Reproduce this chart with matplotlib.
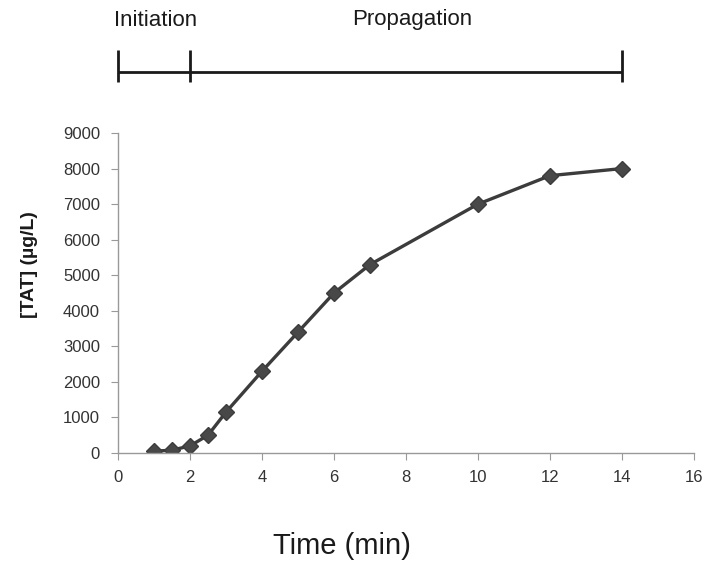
import matplotlib
matplotlib.use('Agg')
import matplotlib.pyplot as plt
import matplotlib.transforms as mtransforms

# data
time_min = [1, 1.5, 2, 2.5, 3, 4, 5, 6, 7, 10, 12, 14]
tat = [50, 80, 200, 500, 1150, 2300, 3400, 4500, 5300, 7000, 7800, 8000]
x_ticks = [0, 2, 4, 6, 8, 10, 12, 14, 16]
y_ticks = [0, 1000, 2000, 3000, 4000, 5000, 6000, 7000, 8000, 9000]
phase_edges = [0, 2, 14]
phase_names = ['Initiation', 'Propagation']

plt.rcParams['font.family'] = ['Liberation Sans', 'DejaVu Sans']

W, H = 704, 563
fig = plt.figure(figsize=(W / 100, H / 100), dpi=100)
ax = fig.add_axes([118 / W, 1 - 453 / H, 576 / W, 320 / H])

ax.plot(time_min, tat, color='#3c3c3c', linewidth=2.4, marker='D',
        markersize=8, markerfacecolor='#484848', markeredgecolor='#3c3c3c')

ax.set_xlim(0, 16)
ax.set_ylim(0, 9000)
ax.set_xticks(x_ticks)
ax.set_yticks(y_ticks)
for s in ['top', 'right']:
    ax.spines[s].set_visible(False)
for s in ['left', 'bottom']:
    ax.spines[s].set_color('#999999')
    ax.spines[s].set_linewidth(1)
ax.tick_params(axis='both', colors='#999999', labelcolor='#333333',
               labelsize=12, length=5, direction='out')
ax.tick_params(axis='x', pad=7)
ax.tick_params(axis='y', pad=8)

def fy(py):
    return 1 - py / H

fig.text(342 / W, fy(546), 'Time (min)', ha='center', va='center',
         fontsize=21, color='#1a1a1a')
fig.text(30 / W, fy(265), '[TAT] (\u00b5g/L)', ha='center', va='center',
         rotation=90, fontsize=14, fontweight='bold', color='#1a1a1a')

# phase bracket above the plot: x in data units, y in figure units
trans = mtransforms.blended_transform_factory(ax.transData, fig.transFigure)
ax.plot([phase_edges[0], phase_edges[-1]], [fy(72), fy(72)], transform=trans,
        color='#1a1a1a', linewidth=2, clip_on=False, solid_capstyle='butt')
for xe in phase_edges:
    ax.plot([xe, xe], [fy(50), fy(82)], transform=trans, color='#1a1a1a',
            linewidth=2, clip_on=False, solid_capstyle='butt')
label_pos = [(1 / W * 0 + 156 / W, fy(21)), (412 / W, fy(19))]
for name, (lx, ly) in zip(phase_names, label_pos):
    fig.text(lx, ly, name, ha='center', va='center', fontsize=16,
             color='#1a1a1a')

fig.savefig('out.png', dpi=100, facecolor='white')
